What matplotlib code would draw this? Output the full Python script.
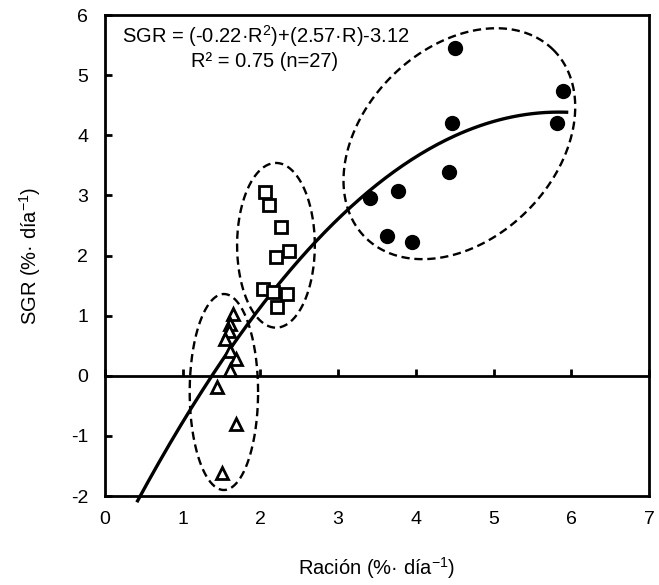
import matplotlib
matplotlib.use("Agg")
import matplotlib.pyplot as plt
import numpy as np

plt.rcParams['font.family'] = ['Liberation Sans', 'DejaVu Sans']
plt.rcParams['mathtext.fontset'] = 'custom'
plt.rcParams['mathtext.rm'] = 'Liberation Sans'
plt.rcParams['mathtext.it'] = 'Liberation Sans'
plt.rcParams['axes.unicode_minus'] = False

# ration (x) and SGR (y) for each group
tri_x = [1.65, 1.61, 1.59, 1.54, 1.61, 1.69, 1.61, 1.44, 1.69, 1.51]
tri_y = [1.03, 0.86, 0.75, 0.61, 0.42, 0.28, 0.09, -0.19, -0.80, -1.61]

sq_x = [2.06, 2.11, 2.27, 2.20, 2.37, 2.03, 2.16, 2.34, 2.21]
sq_y = [3.06, 2.84, 2.48, 1.97, 2.08, 1.45, 1.39, 1.36, 1.14]

circ_x = [4.50, 5.90, 5.81, 4.46, 4.43, 3.77, 3.41, 3.63, 3.95]
circ_y = [5.46, 4.74, 4.20, 4.21, 3.39, 3.07, 2.96, 2.32, 2.22]

# quadratic fit: SGR = a R^2 + b R + c
coef = [-0.22, 2.57, -3.12]
fit_range = [0.42, 5.94]

xticks = [0, 1, 2, 3, 4, 5, 6, 7]
yticks = [-2, -1, 0, 1, 2, 3, 4, 5, 6]

fig = plt.figure(figsize=(6.59, 5.85), dpi=100)
ax = fig.add_axes([0.1593, 0.1521, 0.8255, 0.8222])
ax.set_xlim(0, 7)
ax.set_ylim(-2, 6)

for s in ax.spines.values():
    s.set_linewidth(2.0)

ax.set_xticks(xticks)
ax.set_yticks(yticks)
ax.tick_params(axis='x', length=0, pad=11, labelsize=14)
ax.tick_params(axis='y', direction='in', length=5, width=2, pad=12, labelsize=14)

# zero line with ticks
sec = ax.secondary_xaxis(0.25)
sec.set_xticks(xticks)
sec.tick_params(axis='x', direction='in', length=5, width=2, labelbottom=False, labeltop=False)
for s in sec.spines.values():
    s.set_linewidth(2.0)

xf = np.linspace(fit_range[0], fit_range[1], 200)
ax.plot(xf, np.polyval(coef, xf), color='k', lw=2.4, clip_on=False, zorder=3)

ax.plot(circ_x, circ_y, 'o', color='k', ms=10, zorder=4)
ax.plot(sq_x, sq_y, 's', mfc='white', mec='k', mew=2.0, ms=8.5, zorder=4)
ax.plot(tri_x, tri_y, '^', mfc='white', mec='k', mew=2.0, ms=9, zorder=4)


def dashed_ellipse(cx, cy, m):
    t = np.linspace(0, 2 * np.pi, 300)
    ex = cx + m[0][0] * np.cos(t) + m[0][1] * np.sin(t)
    ey = cy + m[1][0] * np.cos(t) + m[1][1] * np.sin(t)
    ax.plot(ex, ey, color='k', lw=1.7, ls=(0, (3.5, 2)), zorder=2)


dashed_ellipse(1.53, -0.27, [[0.44, 0.0], [0.0, 1.63]])
dashed_ellipse(2.20, 2.17, [[0.50, 0.0], [0.0, 1.37]])
dashed_ellipse(4.56, 3.86, [[1.21, -0.871], [1.56, 1.12]])

ax.text(0.031, 0.956, 'SGR = (-0.22·R$^2$)+(2.57·R)-3.12', transform=ax.transAxes,
        fontsize=14.5, ha='left', va='center')
ax.text(0.294, 0.904, 'R² = 0.75 (n=27)', transform=ax.transAxes,
        fontsize=14.5, ha='center', va='center')

ax.set_xlabel('Ración (%· día$^{-1}$)', fontsize=14.5, labelpad=19)
ax.set_ylabel('SGR (%· día$^{-1}$)', fontsize=14.5, labelpad=20)

fig.savefig('out.png', dpi=100)
